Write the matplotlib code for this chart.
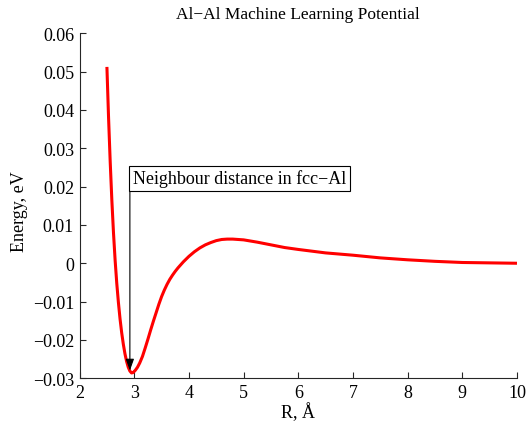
import matplotlib
matplotlib.use("Agg")
import matplotlib.pyplot as plt

# Data
r_values = [2.50, 2.53, 2.56, 2.59, 2.62, 2.65, 2.68, 2.71, 2.74, 2.77, 2.80, 2.83,
            2.86, 2.89, 2.92, 2.95, 2.98, 3.02, 3.06, 3.10, 3.15, 3.20, 3.25, 3.30,
            3.35, 3.40, 3.45, 3.50, 3.55, 3.60, 3.65, 3.70, 3.75, 3.80, 3.85, 3.90,
            3.95, 4.00, 4.10, 4.20, 4.30, 4.40, 4.50, 4.60, 4.70, 4.80, 4.90, 5.00,
            5.25, 5.50, 5.75, 6.00, 6.50, 7.00, 7.50, 8.00, 8.50, 9.00, 9.50, 10.00]
energy = [0.0512, 0.0380, 0.0265, 0.0165, 0.0080, 0.0008, -0.0052, -0.0102, -0.0145,
          -0.0181, -0.0211, -0.0236, -0.0256, -0.0271, -0.0281, -0.0286, -0.0285,
          -0.0279, -0.0271, -0.0260, -0.0243, -0.0221, -0.0198, -0.0174, -0.0151,
          -0.0129, -0.0107, -0.0087, -0.0070, -0.0055, -0.0042, -0.0031, -0.0021,
          -0.0012, -0.0004, 0.0004, 0.0011, 0.0018, 0.0030, 0.0040, 0.0048, 0.0054,
          0.0059, 0.0062, 0.0063, 0.0063, 0.0062, 0.0061, 0.0055, 0.0048, 0.0041,
          0.0036, 0.0027, 0.0021, 0.0014, 0.0009, 0.0005, 0.0002, 0.0001, 0.0000]

x_ticks = [2, 3, 4, 5, 6, 7, 8, 9, 10]
y_ticks = [-0.03, -0.02, -0.01, 0, 0.01, 0.02, 0.03, 0.04, 0.05, 0.06]
y_tick_labels = ["\u22120.03", "\u22120.02", "\u22120.01", "0", "0.01", "0.02",
                 "0.03", "0.04", "0.05", "0.06"]

title = "Al\u2212Al Machine Learning Potential"
annot_text = "Neighbour distance in fcc\u2212Al"
annot_point = (2.92, -0.0280)
annot_tail = (2.92, 0.0214)
annot_text_pos = (2.975, 0.0222)

plt.rcParams['font.family'] = ['Liberation Serif', 'DejaVu Serif']

fig = plt.figure(figsize=(5.27, 4.27), dpi=100)
ax = fig.add_axes([0.151, 0.1117, 0.830, 0.8083])

ax.plot(r_values, energy, color='#ff0000', linewidth=2.2, solid_capstyle='butt',
        solid_joinstyle='round')

ax.set_xlim(2, 10)
ax.set_ylim(-0.03, 0.06)
ax.set_xticks(x_ticks)
ax.set_yticks(y_ticks)
ax.set_yticklabels(y_tick_labels)
ax.tick_params(direction='in', length=4, width=0.8, labelsize=13, colors='#262626',
               labelcolor='black', pad=4)

for s in ['top', 'right']:
    ax.spines[s].set_visible(False)
for s in ['left', 'bottom']:
    ax.spines[s].set_color('#262626')
    ax.spines[s].set_linewidth(0.8)

ax.set_title(title, fontsize=12.5, pad=11)
ax.set_xlabel("R, \u00c5", fontsize=13, labelpad=1)
ax.set_ylabel("Energy, eV", fontsize=13)
ax.yaxis.set_label_coords(-0.118, 0.485)

ax.annotate("", xy=annot_point, xytext=annot_tail,
            arrowprops=dict(arrowstyle='-|>,head_length=0.7,head_width=0.25',
                            color='black', lw=0.8, shrinkA=0, shrinkB=0))
ax.text(annot_text_pos[0], annot_text_pos[1], annot_text, fontsize=13,
        ha='left', va='center',
        bbox=dict(boxstyle='square,pad=0.2', facecolor='white', edgecolor='black',
                  linewidth=0.8))

fig.savefig("out.png", dpi=100)
